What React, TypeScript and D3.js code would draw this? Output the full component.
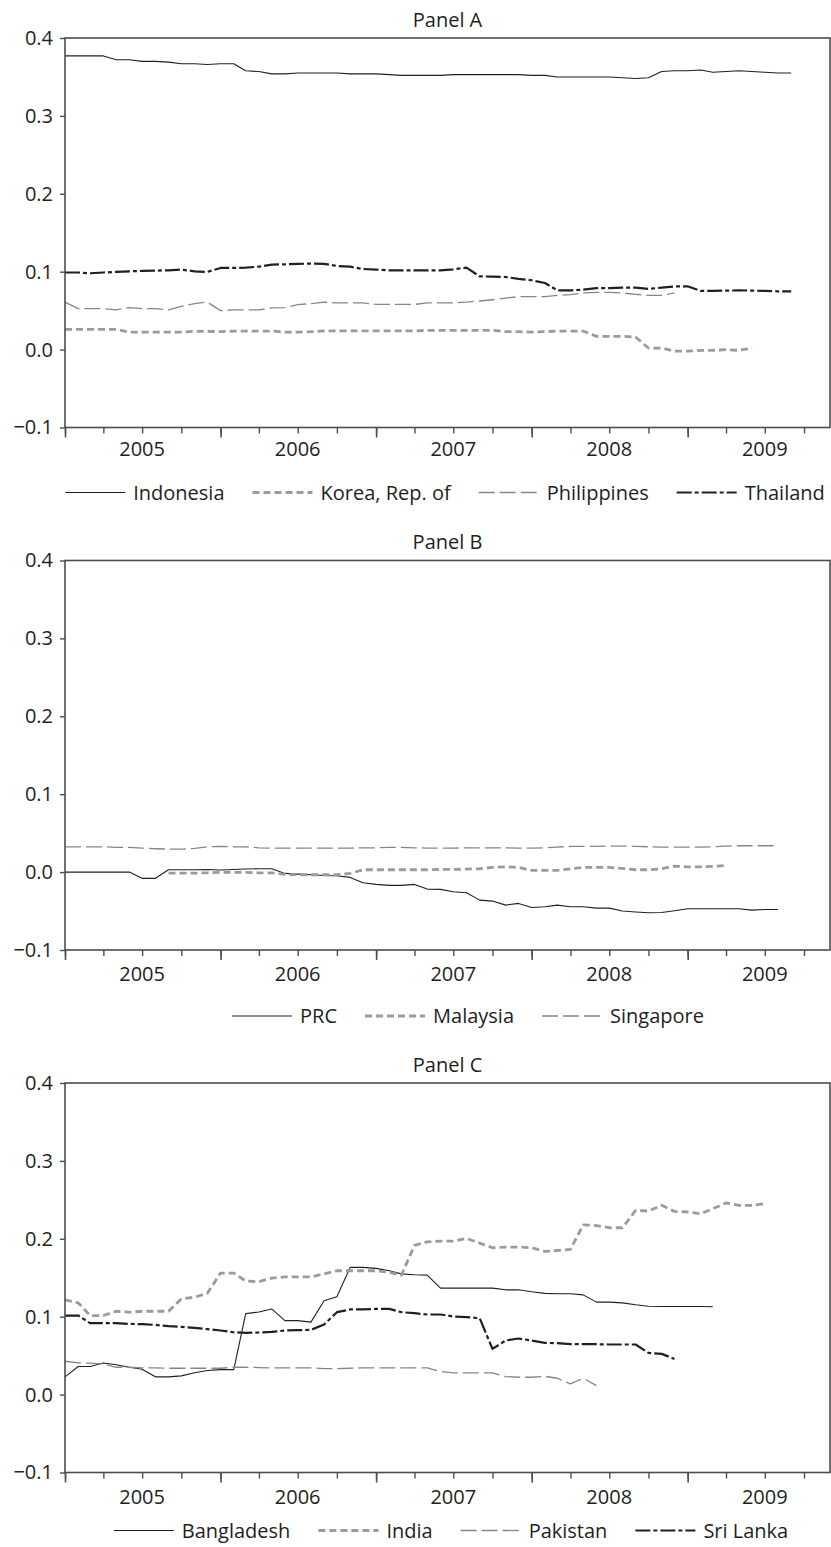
import { useEffect, useRef } from 'react';
import * as d3 from 'd3';

// Monthly observations; index 0 = January 2005.
const indonesia = [
  0.377, 0.377, 0.377, 0.377, 0.372, 0.372, 0.37, 0.37, 0.369, 0.367, 0.367, 0.366, 0.367, 0.367, 0.358,
  0.357, 0.354, 0.354, 0.355, 0.355, 0.355, 0.355, 0.354, 0.354, 0.354, 0.353, 0.352, 0.352, 0.352, 0.352,
  0.353, 0.353, 0.353, 0.353, 0.353, 0.353, 0.352, 0.352, 0.35, 0.35, 0.35, 0.35, 0.35, 0.349, 0.348,
  0.349, 0.357, 0.358, 0.358, 0.359, 0.356, 0.357, 0.358, 0.357, 0.356, 0.355, 0.355,
];
const korea = [
  0.026, 0.026, 0.026, 0.026, 0.026, 0.0225, 0.0225, 0.0225, 0.0225, 0.0225, 0.0235, 0.0235, 0.023, 0.0238,
  0.0238, 0.0238, 0.0238, 0.0225, 0.0225, 0.023, 0.024, 0.024, 0.024, 0.024, 0.024, 0.024, 0.024, 0.024,
  0.0247, 0.0247, 0.0247, 0.0247, 0.0247, 0.0247, 0.023, 0.023, 0.0225, 0.023, 0.0238, 0.0238, 0.0238,
  0.017, 0.017, 0.017, 0.016, 0.002, 0.002, -0.002, -0.002, -0.001, -0.001, 0.0, -0.001, 0.002,
];
const philippines = [
  0.061, 0.0525, 0.0525, 0.0525, 0.051, 0.054, 0.0525, 0.0525, 0.051, 0.0555, 0.059, 0.061, 0.05, 0.051,
  0.051, 0.051, 0.0535, 0.054, 0.0577, 0.059, 0.061, 0.06, 0.06, 0.06, 0.058, 0.058, 0.058, 0.058, 0.06,
  0.06, 0.06, 0.061, 0.0624, 0.064, 0.066, 0.068, 0.068, 0.068, 0.0697, 0.0705, 0.0727, 0.0735, 0.0735,
  0.0727, 0.071, 0.0697, 0.0697, 0.0727,
];
const thailand = [
  0.099, 0.099, 0.098, 0.099, 0.0997, 0.1005, 0.101, 0.1014, 0.1018, 0.1027, 0.1005, 0.0997, 0.1048, 0.1048,
  0.1052, 0.1065, 0.109, 0.1095, 0.11, 0.1104, 0.11, 0.1074, 0.1065, 0.1035, 0.1027, 0.1018, 0.1018, 0.1018,
  0.1018, 0.1018, 0.103, 0.1052, 0.094, 0.0936, 0.0932, 0.0907, 0.089, 0.0855, 0.0761, 0.0761, 0.077, 0.079,
  0.079, 0.0795, 0.0795, 0.078, 0.0795, 0.081, 0.0813, 0.0753, 0.0753, 0.0757, 0.0761, 0.0757, 0.0753,
  0.0748, 0.0748,
];

const prc = [
  0, 0, 0, 0, 0, 0, -0.008, -0.008, 0.003, 0.003, 0.003, 0.0034, 0.0026, 0.0034, 0.0039, 0.0043, 0.0043,
  -0.0017, -0.0026, -0.0034, -0.0043, -0.0047, -0.0068, -0.0137, -0.0158, -0.0171, -0.0171, -0.0158,
  -0.0218, -0.0222, -0.0252, -0.0265, -0.036, -0.0372, -0.0424, -0.0402, -0.0454, -0.0445, -0.0424,
  -0.0445, -0.0445, -0.0462, -0.0462, -0.05, -0.0513, -0.0522, -0.0518, -0.0496, -0.047, -0.047, -0.047,
  -0.047, -0.047, -0.0488, -0.048, -0.048,
];
// Malaysia starts in September 2005
const malaysiaStart = 8;
const malaysia = [
  -0.0013, -0.0013, -0.0013, -0.0009, -0.0004, -0.0004, -0.0004, -0.0009, -0.0009, -0.003, -0.0034,
  -0.0034, -0.0034, -0.0034, -0.0017, 0.003, 0.003, 0.003, 0.003, 0.003, 0.003, 0.0034, 0.0034, 0.0039,
  0.0043, 0.006, 0.0068, 0.006, 0.0021, 0.0021, 0.0021, 0.0043, 0.006, 0.006, 0.006, 0.0047, 0.003, 0.003,
  0.0043, 0.0077, 0.0068, 0.0068, 0.0073, 0.0086,
];
const singapore = [
  0.0325, 0.0325, 0.0325, 0.0325, 0.0317, 0.0317, 0.0308, 0.03, 0.0295, 0.0295, 0.0304, 0.0325, 0.033,
  0.0325, 0.0325, 0.0312, 0.0308, 0.0308, 0.0308, 0.0308, 0.0308, 0.0308, 0.0308, 0.0312, 0.0312, 0.0317,
  0.0317, 0.0312, 0.0308, 0.0308, 0.0308, 0.0312, 0.0312, 0.0312, 0.0312, 0.0308, 0.0308, 0.0312, 0.0321,
  0.033, 0.033, 0.033, 0.0334, 0.0334, 0.033, 0.0325, 0.0321, 0.0321, 0.0321, 0.0321, 0.0325, 0.0334,
  0.0338, 0.0338, 0.0338, 0.0338,
];

const bangladesh = [
  0.0228, 0.036, 0.036, 0.0406, 0.0384, 0.0352, 0.0326, 0.0228, 0.0228, 0.024, 0.028, 0.031, 0.032, 0.032,
  0.104, 0.106, 0.11, 0.095, 0.095, 0.093, 0.1204, 0.1257, 0.1633, 0.1633, 0.162, 0.159, 0.155, 0.1538,
  0.1534, 0.1367, 0.1367, 0.1367, 0.1367, 0.1367, 0.1345, 0.1345, 0.132, 0.13, 0.1294, 0.1294, 0.128,
  0.1187, 0.1187, 0.1178, 0.1153, 0.1135, 0.1131, 0.1131, 0.1131, 0.1131, 0.1127,
];
const india = [
  0.1217, 0.1178, 0.1015, 0.1015, 0.107, 0.1058, 0.107, 0.107, 0.107, 0.123, 0.125, 0.13, 0.156, 0.156,
  0.1457, 0.145, 0.1495, 0.151, 0.151, 0.151, 0.155, 0.159, 0.159, 0.159, 0.159, 0.157, 0.153, 0.1915,
  0.196, 0.197, 0.197, 0.2005, 0.1945, 0.1885, 0.1894, 0.1894, 0.1885, 0.1838, 0.185, 0.1864, 0.218, 0.217,
  0.2142, 0.2142, 0.2365, 0.2356, 0.243, 0.2352, 0.2344, 0.2322, 0.2386, 0.246, 0.243, 0.243, 0.245,
];
const pakistan = [
  0.0428, 0.0407, 0.0403, 0.0394, 0.0351, 0.0351, 0.0343, 0.0343, 0.0338, 0.0338, 0.0338, 0.0338, 0.0338,
  0.0351, 0.0351, 0.0347, 0.0343, 0.0343, 0.0343, 0.0343, 0.0334, 0.0334, 0.0338, 0.0343, 0.0343, 0.0343,
  0.0343, 0.0343, 0.0343, 0.0296, 0.0278, 0.0278, 0.0278, 0.0278, 0.0231, 0.0223, 0.0223, 0.0235, 0.021,
  0.0138, 0.021, 0.0116,
];
const sriLanka = [
  0.1015, 0.1015, 0.0917, 0.0917, 0.0917, 0.0908, 0.0904, 0.0895, 0.0878, 0.087, 0.0857, 0.084, 0.0823,
  0.08, 0.0793, 0.0797, 0.0805, 0.0823, 0.0827, 0.0831, 0.09, 0.1058, 0.1093, 0.1093, 0.11, 0.11, 0.1058,
  0.1045, 0.1028, 0.1028, 0.1003, 0.0994, 0.0981, 0.0587, 0.0694, 0.072, 0.0694, 0.0664, 0.066, 0.0647,
  0.0647, 0.0647, 0.0643, 0.0643, 0.0643, 0.0536, 0.0523, 0.0458,
];

const yTicks = [-0.1, 0, 0.1, 0.2, 0.3, 0.4];
const years = [2005, 2006, 2007, 2008, 2009];

type StyleKey = 'solid' | 'shortDash' | 'longDash' | 'dashDot';

const lineStyles: Record<StyleKey, { stroke: string; width: number; dash: string | null }> = {
  solid: { stroke: '#231f20', width: 1.1, dash: null },
  shortDash: { stroke: '#9b9b9b', width: 2.8, dash: '7,4' },
  longDash: { stroke: '#868686', width: 1.3, dash: '16,5' },
  dashDot: { stroke: '#231f20', width: 2.2, dash: '15,3,4,3' },
};

interface Series {
  name: string;
  start: number;
  values: number[];
  style: StyleKey;
}

const panels: { title: string; series: Series[]; top: number; labelDy: number; legendDy: number; legendCx: number }[] = [
  {
    title: 'Panel A',
    top: 38,
    labelDy: 28.5,
    legendDy: 454.5,
    legendCx: 445,
    series: [
      { name: 'Indonesia', start: 0, values: indonesia, style: 'solid' },
      { name: 'Korea, Rep. of', start: 0, values: korea, style: 'shortDash' },
      { name: 'Philippines', start: 0, values: philippines, style: 'longDash' },
      { name: 'Thailand', start: 0, values: thailand, style: 'dashDot' },
    ],
  },
  {
    title: 'Panel B',
    top: 560.5,
    labelDy: 31,
    legendDy: 455.5,
    legendCx: 468,
    series: [
      { name: 'PRC', start: 0, values: prc, style: 'solid' },
      { name: 'Malaysia', start: malaysiaStart, values: malaysia, style: 'shortDash' },
      { name: 'Singapore', start: 0, values: singapore, style: 'longDash' },
    ],
  },
  {
    title: 'Panel C',
    top: 1083,
    labelDy: 31,
    legendDy: 447.5,
    legendCx: 451,
    series: [
      { name: 'Bangladesh', start: 0, values: bangladesh, style: 'solid' },
      { name: 'India', start: 0, values: india, style: 'shortDash' },
      { name: 'Pakistan', start: 0, values: pakistan, style: 'longDash' },
      { name: 'Sri Lanka', start: 0, values: sriLanka, style: 'dashDot' },
    ],
  },
];

const WIDTH = 831;
const HEIGHT = 1547;

export default function App() {
  const svgRef = useRef<SVGSVGElement>(null);

  useEffect(() => {
    if (!svgRef.current) return;
    const svg = d3.select(svgRef.current);
    svg.selectAll('*').remove();

    const left = 65;
    const right = 830;
    const plotH = 389.5;
    const textColor = '#231f20';
    const axisColor = '#4d4d4d';
    const font = "'Open Sans', sans-serif";

    const t0 = new Date(Date.UTC(2005, 0, 1));
    const x = d3.scaleUtc().domain([t0, new Date(Date.UTC(2009, 11, 1))]).range([left, right]);
    const month = (i: number) => d3.utcMonth.offset(t0, i);

    const quarters = d3.utcMonth.every(3)!.range(t0, new Date(Date.UTC(2009, 11, 2)));
    const yearStarts = years.map((yr) => new Date(Date.UTC(yr, 0, 1)));
    const midYears = years.map((yr) => new Date(Date.UTC(yr, 6, 1)));

    svg.append('rect').attr('width', WIDTH).attr('height', HEIGHT).attr('fill', '#fff');

    panels.forEach((p) => {
      const top = p.top;
      const bottom = top + plotH;
      const y = d3.scaleLinear().domain([-0.1, 0.4]).range([bottom, top]);
      const g = svg.append('g').attr('font-family', font);

      // title
      g.append('text')
        .attr('x', (left + right) / 2)
        .attr('y', top - 11.5)
        .attr('text-anchor', 'middle')
        .attr('font-size', 20)
        .attr('fill', textColor)
        .text(p.title);

      // series
      p.series.forEach((s) => {
        const st = lineStyles[s.style];
        const line = d3
          .line<number>()
          .x((_, i) => x(month(s.start + i)))
          .y((d) => y(d));
        g.append('path')
          .datum(s.values)
          .attr('d', line)
          .attr('fill', 'none')
          .attr('stroke', st.stroke)
          .attr('stroke-width', st.width)
          .attr('stroke-dasharray', st.dash)
          .attr('stroke-linejoin', 'round');
      });

      // frame
      g.append('rect')
        .attr('x', left)
        .attr('y', top)
        .attr('width', right - left)
        .attr('height', plotH)
        .attr('fill', 'none')
        .attr('stroke', axisColor)
        .attr('stroke-width', 1.6);

      // y axis
      const yAxis = g
        .append('g')
        .attr('transform', `translate(${left},0)`)
        .call(d3.axisLeft(y).tickValues(yTicks).tickSize(5).tickPadding(7).tickFormat(d3.format('.1f')));
      yAxis.select('.domain').remove();
      yAxis.selectAll('line').attr('stroke', axisColor).attr('stroke-width', 1.4);
      yAxis.selectAll('text').attr('font-size', 20).attr('font-family', font).attr('fill', textColor);

      // x axis: quarter ticks, longer year ticks
      const qAxis = g
        .append('g')
        .attr('transform', `translate(0,${bottom})`)
        .call(d3.axisBottom(x).tickValues(quarters).tickSize(6).tickFormat(() => ''));
      qAxis.select('.domain').remove();
      qAxis.selectAll('line').attr('stroke', axisColor).attr('stroke-width', 1.4);

      const yrAxis = g
        .append('g')
        .attr('transform', `translate(0,${bottom})`)
        .call(d3.axisBottom(x).tickValues(yearStarts).tickSize(10).tickFormat(() => ''));
      yrAxis.select('.domain').remove();
      yrAxis.selectAll('line').attr('stroke', axisColor).attr('stroke-width', 1.6);

      g.selectAll('.year-label')
        .data(midYears)
        .join('text')
        .attr('class', 'year-label')
        .attr('x', (d) => x(d))
        .attr('y', bottom + p.labelDy)
        .attr('text-anchor', 'middle')
        .attr('font-size', 20)
        .attr('fill', textColor)
        .text((d) => d3.utcFormat('%Y')(d));

      // legend
      const lineLen = 60;
      const textGap = 8;
      const itemGap = 28;
      const ly = top + p.legendDy;
      const legend = g.append('g');
      const items = p.series.map((s) => {
        const item = legend.append('g');
        const st = lineStyles[s.style];
        item
          .append('line')
          .attr('x1', 0)
          .attr('x2', lineLen)
          .attr('y1', 0)
          .attr('y2', 0)
          .attr('stroke', st.stroke)
          .attr('stroke-width', st.width)
          .attr('stroke-dasharray', st.dash);
        const txt = item
          .append('text')
          .attr('x', lineLen + textGap)
          .attr('y', 7)
          .attr('font-size', 20)
          .attr('fill', textColor)
          .text(s.name);
        const w = lineLen + textGap + (txt.node() as SVGTextElement).getComputedTextLength();
        return { item, w };
      });
      const total = d3.sum(items, (d) => d.w) + itemGap * (items.length - 1);
      let cx = p.legendCx - total / 2;
      items.forEach((it) => {
        it.item.attr('transform', `translate(${cx},${ly})`);
        cx += it.w + itemGap;
      });
    });
  }, []);

  return (
    <svg
      ref={svgRef}
      width={WIDTH}
      height={HEIGHT}
      style={{ position: 'absolute', left: 0, top: 0, display: 'block' }}
    />
  );
}
